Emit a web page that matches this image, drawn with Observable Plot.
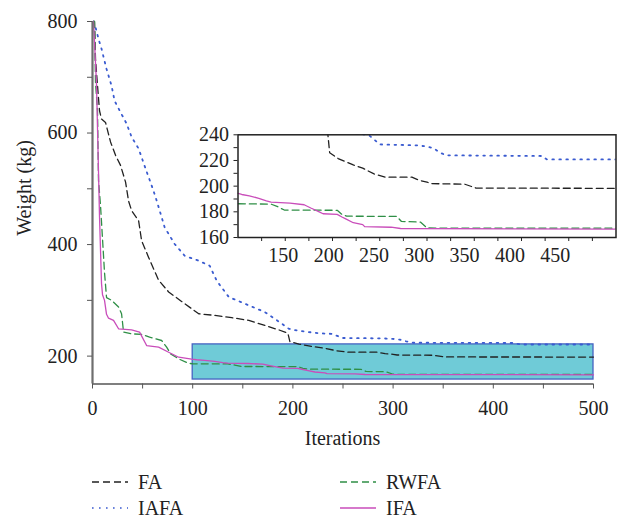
<!DOCTYPE html>
<html><head><meta charset="utf-8">
<script src="https://cdn.jsdelivr.net/npm/d3@7"></script>
<script src="https://cdn.jsdelivr.net/npm/@observablehq/plot@0.6"></script>
<style>
body{margin:0;background:#fff;}
#wrap{position:relative;width:617px;height:519px;font-family:"Liberation Serif",serif;color:#222;overflow:hidden;}
#wrap svg.layer{position:absolute;left:0;top:0;}
.leg{position:absolute;display:flex;align-items:center;font-size:20px;line-height:1;}
.leg svg{margin-right:10px;}
</style></head><body><div id="wrap"></div>
<script>
// ---------------- data ----------------
const faIter = [1,2,3,5,7,9,13,18,23,28,33,36,39,46,49,56,66,76,92,106,122,139,156,172,186,195,197,206,222,232,244,256,284,292,300,304,340,352,500];
const faWeight = [800,800,733,685,640,625,619,584,560,542,512,478,461,443,407,377,336,315,294,276,273,269,264,255,247,241,226,221.5,216.5,214,209.5,207,207,204.5,203.2,202,201.5,198.5,198.3];

const iafaIter = [1,3,6,9,14,19,22,28,34,39,46,53,59,63,72,82,92,106,117,124,136,152,172,189,196,204,225,238,243,250,290,300,307,313,320,421,427,500];
const iafaWeight = [800,790,769,751,715,685,658,637,617,593,572,536,506,485,431,401,380,371,362,335,306,294,279,258,249,246,241,240,237,232.5,231.8,230.8,229.5,226.5,224,223.5,220.8,220.8];

const rwfaIter = [1,2,3,5,6,8,10,12,14,19,26,29,31,39,49,57,69,74,78,86,96,100,135,142,149,205,210,215,268,273,293,300,310,500];
const rwfaWeight = [800,800,690,640,515,470,410,350,305,300,288,276,243,240,239,234,228,216,204,195,187,186.3,186,184,181.4,181.2,178,176.6,176.4,172.5,172,167.5,167.3,167.3];

const ifaIter = [1,4,7,9,10,12,14,16,21,26,39,47,54,66,76,86,99,104,112,122,130,135,155,170,177,186,190,205,210,214,222,232,234,262,272,500];
const ifaWeight = [800,688,450,330,310,300,275,268,264,249,247,243,219,216,207,198,194.5,193.5,192.5,190.5,188.5,187.5,186.8,185.5,183,180,178.5,178,176,174.5,171.5,170,168.5,168,167,166.5];

const seriesNames = ["FA","IAFA","RWFA","IFA"];
const seriesColors = ["#222222","#3a5bd0","#2f8f46","#c94dba"];
const seriesDash = ["7,4","1.6,5.4","7,4",null];

// axes
const xDomain = [0, 500];
const yDomain = [150, 800];
const xTicks = [0,50,100,150,200,250,300,350,400,450,500];
const xLabels = [0,100,200,300,400,500];
const yTicks = [200,300,400,500,600,700,800];
const yLabels = [200,400,600,800];

// zoomed window (inset and highlight box)
const boxIter = [100, 500];
const boxWeight = [158, 221];
const insetYDomain = [160, 240];
const insetXTicks = [125,150,175,200,225,250,275,300,325,350,375,400,425,450,475];
const insetYTicks = [160,170,180,190,200,210,220,230,240];
const insetYLabels = [160,180,200,220,240];
const insetXLabels = [150,200,250,300,350,400,450];
const insetLabelDomain = [100, 517];

// ---------------- build ----------------
const iters = [faIter, iafaIter, rwfaIter, ifaIter];
const weights = [faWeight, iafaWeight, rwfaWeight, ifaWeight];
const series = seriesNames.map((name, k) => ({
  name, color: seriesColors[k], dash: seriesDash[k],
  rows: iters[k].map((it, i) => ({it, w: weights[k][i]}))
}));

const W = 617, H = 460;
const font = {fontFamily: '"Liberation Serif", serif', fontSize: "20px", color: "#222", background: "transparent", overflow: "visible"};

function lineMarks(clip) {
  return series.map(s => Plot.line(s.rows, {
    x: "it", y: "w", stroke: s.color, strokeWidth: s.name === "IAFA" ? 1.8 : 1.3,
    strokeDasharray: s.dash || undefined, clip
  }));
}

const main = Plot.plot({
  width: W, height: H,
  marginLeft: 92, marginRight: 24, marginTop: 21, marginBottom: H - 383.5,
  x: {domain: xDomain},
  y: {domain: yDomain},
  style: font,
  marks: [
    Plot.rect([{x1: boxIter[0], x2: boxIter[1], y1: boxWeight[0], y2: boxWeight[1]}],
      {x1: "x1", x2: "x2", y1: "y1", y2: "y2", fill: "#6fcbd7", stroke: "#4563c2", strokeWidth: 1.3}),
    ...lineMarks(false),
    Plot.ruleX([xDomain[0]], {stroke: "#6e6e6e", strokeWidth: 2.2}),
    Plot.ruleY([yDomain[0]], {stroke: "#555", strokeWidth: 1.5}),
    Plot.axisX({ticks: xTicks, tickFormat: d => xLabels.includes(d) ? String(d) : "", tickSize: 5, tickPadding: 12, stroke: "#555", label: null}),
    Plot.axisY({ticks: yTicks, tickFormat: d => yLabels.includes(d) ? String(d) : "", tickSize: 5, tickPadding: 10, stroke: "#555", label: null})
  ]
});
main.classList.add("layer");

const inset = Plot.plot({
  width: W, height: H,
  marginLeft: 237.5, marginRight: W - 615.5, marginTop: 134.3, marginBottom: H - 237,
  x: {domain: boxIter},
  y: {domain: insetYDomain},
  style: font,
  marks: [
    Plot.frame({fill: "white", stroke: "none"}),
    ...lineMarks(true),
    Plot.frame({stroke: "#222", strokeWidth: 1.5}),
    Plot.axisX({ticks: insetXTicks, tickFormat: () => "", tickSize: 4, stroke: "#222", label: null}),
    Plot.axisY({ticks: insetYTicks, tickFormat: d => insetYLabels.includes(d) ? String(d) : "", tickSize: 4, tickPadding: 5, stroke: "#222", label: null})
  ]
});
inset.classList.add("layer");

// inset tick labels (spaced as in the original figure)
const insetLab = Plot.plot({
  width: W, height: H,
  marginLeft: 237.5, marginRight: W - 615.5, marginTop: 134.3, marginBottom: H - 237,
  x: {domain: insetLabelDomain},
  style: font,
  marks: [
    Plot.axisX({ticks: insetXLabels, tickSize: 0, tickPadding: 10, label: null})
  ]
});
insetLab.classList.add("layer");

const wrap = document.getElementById("wrap");
wrap.appendChild(main);
wrap.appendChild(inset);
wrap.appendChild(insetLab);

// axis titles
const sv = d3.select(main);
sv.append("text").attr("x", (92 + 593) / 2).attr("y", 445).attr("text-anchor", "middle")
  .attr("fill", "#222").text("Iterations");
sv.append("text").attr("transform", "translate(31,188) rotate(-90)").attr("text-anchor", "middle")
  .attr("fill", "#222").text("Weight (kg)");

// legend below the chart
const legPos = [[92, 482], [92, 508], [340, 482], [340, 508]];
series.forEach((s, k) => {
  const d = document.createElement("div");
  d.className = "leg";
  d.style.left = legPos[k][0] + "px";
  d.style.top = (legPos[k][1] - 10) + "px";
  d.style.height = "20px";
  d.innerHTML = `<svg width="36" height="6"><line x1="0" y1="3" x2="36" y2="3" stroke="${s.color}" stroke-width="${s.name === "IAFA" ? 1.5 : 1.3}" ${s.dash ? `stroke-dasharray="${s.dash}"` : ""}/></svg><span>${s.name}</span>`;
  wrap.appendChild(d);
});
</script>
</body></html>
